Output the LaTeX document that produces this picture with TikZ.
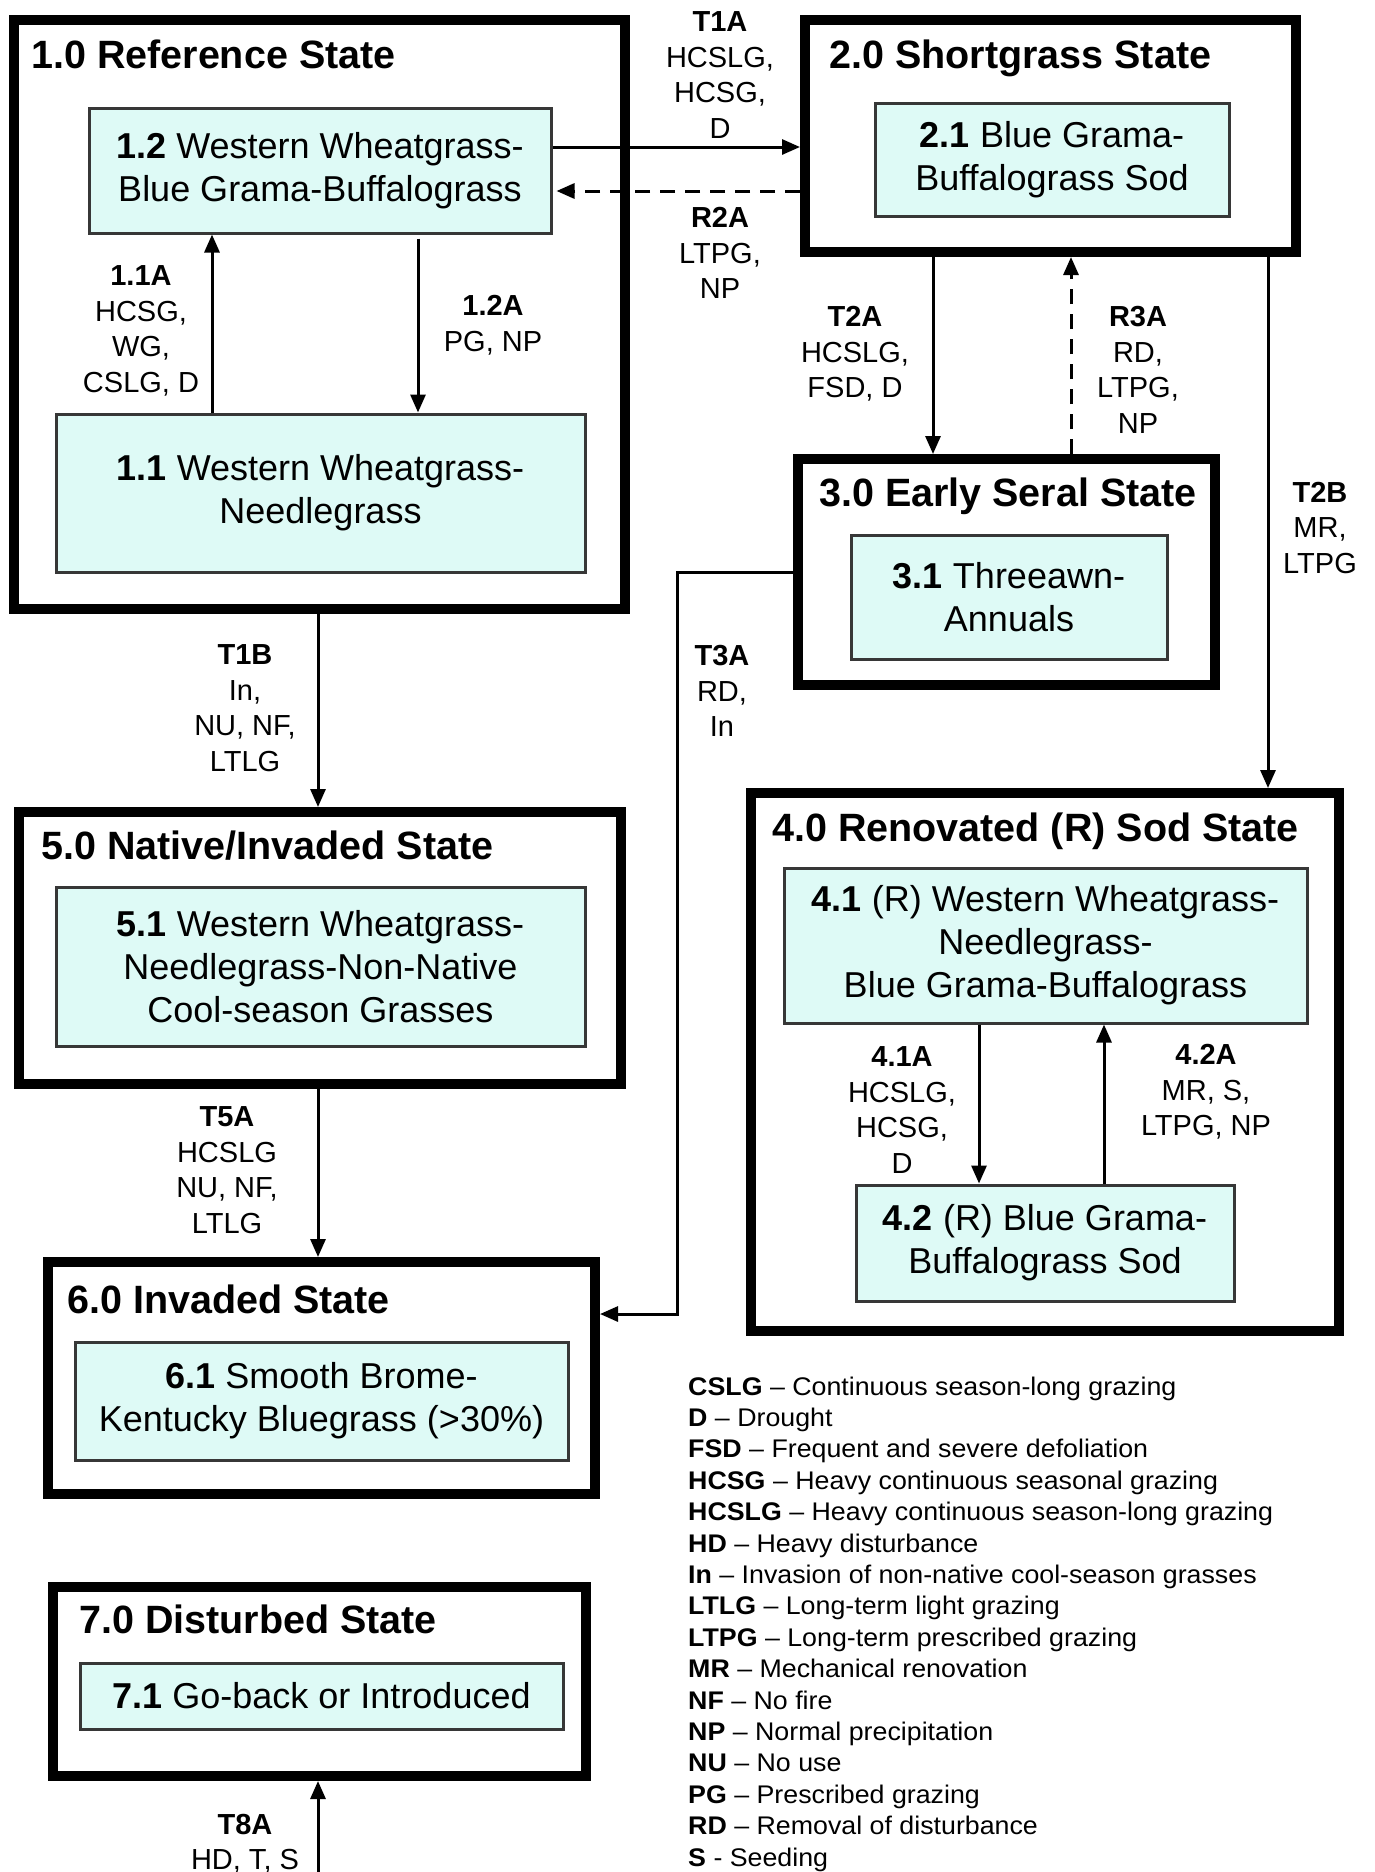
\documentclass[tikz,border=0pt]{standalone}
\usepackage{fontspec}
\setmainfont{Liberation Sans}
\newfontfamily\legfont{Liberation Sans}[FakeStretch=1.05,Ligatures=TeX]
\usetikzlibrary{arrows.meta}
\definecolor{boxfill}{RGB}{222,250,246}
\definecolor{boxline}{RGB}{55,55,55}
\tikzset{
  statebox/.style={draw=black,line width=10pt,inner sep=0pt},
  phasebox/.style={draw=boxline,fill=boxfill,line width=3pt,inner sep=0pt,align=center,font=\fontsize{36}{43}\selectfont},
  statetitle/.style={anchor=base west,inner sep=0pt,font=\fontsize{39.5}{46}\selectfont\bfseries},
  lbl/.style={align=center,inner sep=0pt,font=\fontsize{29}{35.5}\selectfont},
  arr/.style={line width=3pt,-{Triangle[length=18pt,width=15pt]}},
  darr/.style={arr,dash pattern=on 15pt off 10pt},
  leg/.style={anchor=base west,inner sep=0pt,font=\legfont\fontsize{25.5}{31}\selectfont}
}
\begin{document}
\begin{tikzpicture}[x=1pt,y=-1pt]
\useasboundingbox (0,0) rectangle (1374,1872);
\fill[white] (0,0) rectangle (1374,1872);

% state boxes
\node[statebox,minimum width=611pt,minimum height=589pt] (s1) at (319.5,314.5) {};
\node[statebox,minimum width=491pt,minimum height=232pt] (s2) at (1050.5,136) {};
\node[statebox,minimum width=417pt,minimum height=226pt] (s3) at (1006.5,572) {};
\node[statebox,minimum width=588pt,minimum height=538pt] (s4) at (1045,1062) {};
\node[statebox,minimum width=602pt,minimum height=272pt] (s5) at (320,948) {};
\node[statebox,minimum width=547pt,minimum height=232pt] (s6) at (321.5,1378) {};
\node[statebox,minimum width=533pt,minimum height=189pt] (s7) at (319.5,1681.5) {};

% titles
\node[statetitle] (t1) at (31,68) {1.0 Reference State};
\node[statetitle] (t2) at (829,68) {2.0 Shortgrass State};
\node[statetitle] (t3) at (819,506) {3.0 Early Seral State};
\node[statetitle] (t4) at (772,841) {4.0 Renovated (R) Sod State};
\node[statetitle] (t5) at (41,859) {5.0 Native/Invaded State};
\node[statetitle] (t6) at (67,1313) {6.0 Invaded State};
\node[statetitle] (t7) at (79,1633) {7.0 Disturbed State};

% community phase boxes
\node[phasebox,minimum width=462pt,minimum height=125pt] (b12) at (320,170.5) {\textbf{1.2} Western Wheatgrass-\\Blue Grama-Buffalograss};
\node[phasebox,minimum width=529pt,minimum height=158pt] (b11) at (320.5,493) {\textbf{1.1} Western Wheatgrass-\\Needlegrass};
\node[phasebox,minimum width=354pt,minimum height=113pt] (b21) at (1052,159.5) {\textbf{2.1} Blue Grama-\\Buffalograss Sod};
\node[phasebox,minimum width=316pt,minimum height=124pt] (b31) at (1009,597) {\textbf{3.1} Threeawn-\\Annuals};
\node[phasebox,minimum width=523pt,minimum height=155pt] (b41) at (1045.5,945.5) {\textbf{4.1} (R) Western Wheatgrass-\\Needlegrass-\\Blue Grama-Buffalograss};
\node[phasebox,minimum width=378pt,minimum height=116pt] (b42) at (1045,1243) {\textbf{4.2} (R) Blue Grama-\\Buffalograss Sod};
\node[phasebox,minimum width=529pt,minimum height=159pt] (b51) at (320.5,966.5) {\textbf{5.1} Western Wheatgrass-\\Needlegrass-Non-Native\\Cool-season Grasses};
\node[phasebox,minimum width=493pt,minimum height=118pt] (b61) at (321.5,1401) {\textbf{6.1} Smooth Brome-\\Kentucky Bluegrass (>30\%)};
\node[phasebox,minimum width=483pt,minimum height=66pt] (b71) at (321.5,1696) {\textbf{7.1} Go-back or Introduced};

% helper coordinates
\coordinate (yT1A) at (0,147);
\coordinate (yR2A) at (0,191);
\coordinate (x11A) at (212,0);
\coordinate (x12A) at (418,0);
\coordinate (xMid) at (318,0);
\coordinate (xT2A) at (933,0);
\coordinate (xR3A) at (1071,0);
\coordinate (xT2B) at (1268,0);
\coordinate (x41A) at (979,0);
\coordinate (x42A) at (1104,0);
\coordinate (t3a1) at (677,572);
\coordinate (t3a2) at (677,1314);
\coordinate (t8start) at (318,1880);

% connectors
\draw[arr] (b12.east |- yT1A) -- (s2.west |- yT1A);
\draw[darr,shorten >=4pt] (s2.west |- yR2A) -- (b12.east |- yR2A);
\draw[arr] (b11.north -| x11A) -- (b12.south -| x11A);
\draw[arr,shorten <=4pt] (b12.south -| x12A) -- (b11.north -| x12A);
\draw[arr] (s2.south -| xT2A) -- (s3.north -| xT2A);
\draw[darr] (s3.north -| xR3A) -- (s2.south -| xR3A);
\draw[arr] (s2.south -| xT2B) -- (s4.north -| xT2B);
\draw[arr] (s3.west) -- (t3a1) -- (t3a2) -- (s6.east |- t3a2);
\draw[arr] (s1.south -| xMid) -- (s5.north -| xMid);
\draw[arr] (s5.south -| xMid) -- (s6.north -| xMid);
\draw[arr] (t8start) -- (s7.south -| xMid);
\draw[arr] (b41.south -| x41A) -- (b42.north -| x41A);
\draw[arr] (b42.north -| x42A) -- (b41.south -| x42A);

% transition labels
\node[lbl] (lT1A) at (720,75) {\textbf{T1A}\\HCSLG,\\HCSG,\\D};
\node[lbl] (lR2A) at (720,253) {\textbf{R2A}\\LTPG,\\NP};
\node[lbl] (l11A) at (141,331) {\textbf{1.1A}\\HCSG,\\WG,\\CSLG, D};
\node[lbl] (l12A) at (493,325) {\textbf{1.2A}\\PG, NP};
\node[lbl] (lT2A) at (855,354) {\textbf{T2A}\\HCSLG,\\FSD, D};
\node[lbl] (lR3A) at (1138,370) {\textbf{R3A}\\RD,\\LTPG,\\NP};
\node[lbl] (lT2B) at (1320,528) {\textbf{T2B}\\MR,\\LTPG};
\node[lbl] (lT3A) at (722,691) {\textbf{T3A}\\RD,\\In};
\node[lbl] (lT1B) at (245,708) {\textbf{T1B}\\In,\\NU, NF,\\LTLG};
\node[lbl] (lT5A) at (227,1170) {\textbf{T5A}\\HCSLG\\NU, NF,\\LTLG};
\node[lbl] (l41A) at (902,1110) {\textbf{4.1A}\\HCSLG,\\HCSG,\\D};
\node[lbl] (l42A) at (1206,1092) {\textbf{4.2A}\\MR, S,\\LTPG, NP};
\node[lbl] (lT8A) at (245,1843.5) {\textbf{T8A}\\HD, T, S};

% legend
\foreach \ab/\dd/\tx [count=\i] in {
  CSLG/\textendash/Continuous season-long grazing,
  D/\textendash/Drought,
  FSD/\textendash/Frequent and severe defoliation,
  HCSG/\textendash/Heavy continuous seasonal grazing,
  HCSLG/\textendash/Heavy continuous season-long grazing,
  HD/\textendash/Heavy disturbance,
  In/\textendash/Invasion of non-native cool-season grasses,
  LTLG/\textendash/Long-term light grazing,
  LTPG/\textendash/Long-term prescribed grazing,
  MR/\textendash/Mechanical renovation,
  NF/\textendash/No fire,
  NP/\textendash/Normal precipitation,
  NU/\textendash/No use,
  PG/\textendash/Prescribed grazing,
  RD/\textendash/Removal of disturbance,
  S/-/Seeding}
  \node[leg] (lg\i) at (688,{1395+31.4*(\i-1)}) {\textbf{\ab} \dd{} \tx};
\end{tikzpicture}
\end{document}
